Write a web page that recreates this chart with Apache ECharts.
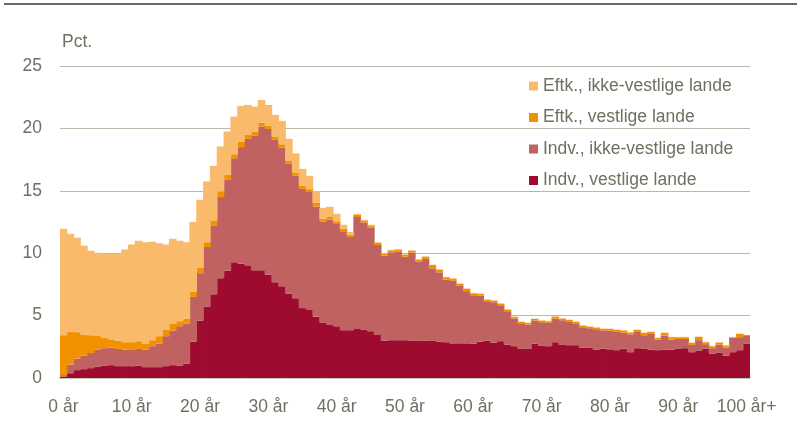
<!DOCTYPE html>
<html>
<head>
<meta charset="utf-8">
<script src="https://cdn.jsdelivr.net/npm/echarts@6/dist/echarts.min.js"></script>
<style>
  html, body { margin: 0; padding: 0; background: #fff; }
  #chart { width: 801px; height: 426px; }
</style>
</head>
<body>
<div id="chart"></div>
<script>
// alder 0 .. 100+
var ages = [];
for (var a = 0; a <= 100; a++) {
    ages.push(a === 100 ? '100 år+' : a + ' år');
}

var yTicks = [0, 5, 10, 15, 20, 25];

// Indv., vestlige lande
var indvVest = [0.1, 0.38, 0.63, 0.71, 0.79, 0.92, 1.0, 1.03, 0.95, 0.95,
    0.95, 1.0, 0.87, 0.87, 0.87, 0.95, 1.03, 1.0, 1.16, 2.91,
    4.6, 5.73, 6.71, 7.99, 8.6, 9.27, 9.16, 9.03, 8.63, 8.63,
    8.28, 7.67, 7.35, 6.76, 6.39, 5.6, 5.5, 4.92, 4.41, 4.3,
    4.15, 3.83, 3.83, 3.93, 3.85, 3.75, 3.45, 3.0, 3.03, 3.03,
    3.03, 2.97, 2.97, 3.0, 2.97, 2.92, 2.87, 2.78, 2.78, 2.78,
    2.76, 2.92, 3.0, 2.84, 2.95, 2.68, 2.55, 2.33, 2.33, 2.76,
    2.57, 2.55, 2.87, 2.65, 2.63, 2.63, 2.41, 2.41, 2.25, 2.35,
    2.3, 2.23, 2.35, 2.07, 2.39, 2.33, 2.28, 2.23, 2.28, 2.28,
    2.33, 2.39, 2.07, 2.17, 2.36, 1.96, 2.01, 1.8, 2.07, 2.23,
    2.73];

// Indv., ikke-vestlige lande
var indvIkkeVest = [0.13, 0.7, 0.93, 1.09, 1.21, 1.36, 1.39, 1.41, 1.38, 1.33,
    1.3, 1.33, 1.41, 1.68, 1.89, 2.4, 2.77, 3.15, 3.21, 3.59,
    3.8, 4.77, 5.52, 6.51, 7.28, 8.33, 9.34, 10.13, 10.8, 11.52,
    11.68, 11.41, 11.12, 10.4, 9.81, 9.56, 9.4, 8.83, 8.14, 8.4,
    8.18, 7.92, 7.46, 8.97, 8.62, 8.32, 7.2, 6.8, 7.04, 7.09,
    6.69, 7.07, 6.35, 6.55, 5.82, 5.55, 5.01, 5.0, 4.6, 4.18,
    3.87, 3.68, 3.15, 3.23, 2.88, 2.67, 2.21, 2.0, 1.95, 1.84,
    1.9, 1.86, 1.89, 1.98, 1.86, 1.7, 1.66, 1.58, 1.66, 1.47,
    1.5, 1.46, 1.28, 1.43, 1.3, 1.1, 1.25, 0.85, 1.12, 0.8,
    0.8, 0.74, 0.58, 0.86, 0.35, 0.43, 0.67, 0.64, 1.14, 1.04,
    0.7];

// Eftk., vestlige lande
var eftkVest = [3.2, 2.64, 2.11, 1.68, 1.43, 1.12, 0.81, 0.66, 0.64, 0.59,
    0.62, 0.62, 0.45, 0.48, 0.59, 0.5, 0.53, 0.4, 0.38, 0.42,
    0.42, 0.38, 0.4, 0.45, 0.4, 0.33, 0.45, 0.32, 0.32, 0.32,
    0.27, 0.27, 0.26, 0.27, 0.27, 0.24, 0.23, 0.28, 0.21, 0.25,
    0.22, 0.21, 0.19, 0.18, 0.16, 0.16, 0.17, 0.16, 0.16, 0.16,
    0.16, 0.16, 0.16, 0.15, 0.26, 0.21, 0.2, 0.15, 0.15, 0.17,
    0.16, 0.13, 0.13, 0.13, 0.13, 0.13, 0.13, 0.16, 0.13, 0.13,
    0.13, 0.14, 0.16, 0.13, 0.16, 0.16, 0.13, 0.13, 0.13, 0.11,
    0.13, 0.16, 0.17, 0.15, 0.16, 0.18, 0.16, 0.13, 0.21, 0.19,
    0.14, 0.14, 0.16, 0.26, 0.16, 0.16, 0.16, 0.16, 0.06, 0.26,
    0.0];

// Eftk., ikke-vestlige lande
var eftkIkkeVest = [8.53, 7.84, 7.57, 7.12, 6.77, 6.64, 6.8, 6.83, 7.03, 7.43,
    7.83, 8.05, 8.14, 7.89, 7.45, 6.85, 6.83, 6.45, 6.13, 5.58,
    5.46, 4.87, 4.37, 3.6, 3.47, 3.02, 2.85, 2.4, 2.0, 1.81,
    1.65, 1.73, 1.87, 1.73, 1.53, 1.36, 1.07, 0.94, 0.87, 0.77,
    0.61, 0.32, 0.22, 0.08, 0.05, 0.05, 0.05, 0.04, 0.05, 0.05,
    0.04, 0.03, 0.05, 0.05, 0.03, 0.05, 0.02, 0.06, 0.05, 0.05,
    0.03, 0.03, 0.03, 0.03, 0.03, 0.03, 0.03, 0.03, 0.03, 0.03,
    0.03, 0.03, 0.03, 0.03, 0.03, 0.03, 0.03, 0.03, 0.03, 0.03,
    0.03, 0.03, 0.03, 0.03, 0.03, 0.03, 0.03, 0.03, 0.03, 0.03,
    0.03, 0.03, 0.03, 0.03, 0.03, 0.03, 0.03, 0.03, 0.03, 0.03,
    0.03];

var seriesNames = ['Indv., vestlige lande', 'Indv., ikke-vestlige lande', 'Eftk., vestlige lande', 'Eftk., ikke-vestlige lande'];
var seriesColors = ['#9e0b2f', '#c06262', '#f29100', '#f9bb6b'];
var seriesData = [indvVest, indvIkkeVest, eftkVest, eftkIkkeVest];

var textColor = '#6f6f62';
var fontName = 'Liberation Sans, Arial, sans-serif';

var chart = echarts.init(document.getElementById('chart'));

var series = [];
for (var i = 0; i < seriesNames.length; i++) {
    series.push({
        name: seriesNames[i],
        type: 'bar',
        stack: 'total',
        barWidth: '112%',
        itemStyle: { color: seriesColors[i] },
        data: seriesData[i]
    });
}

chart.setOption({
    animation: false,
    textStyle: { fontFamily: fontName },
    grid: { left: 60, right: 51, top: 66, bottom: 48, containLabel: false },
    legend: {
        orient: 'vertical',
        left: 524,
        top: 72,
        itemWidth: 9,
        itemHeight: 9,
        itemGap: 13.5,
        icon: 'rect',
        data: seriesNames.slice().reverse(),
        textStyle: { color: textColor, fontSize: 17.5, fontFamily: fontName }
    },
    graphic: [
        {
            type: 'rect',
            left: 4, top: 3,
            shape: { width: 793, height: 2 },
            style: { fill: '#6b6a5c' }
        },
        {
            type: 'text',
            left: 62, top: 33,
            style: { text: 'Pct.', fill: textColor, fontSize: 17.5, fontFamily: fontName }
        }
    ],
    xAxis: {
        type: 'category',
        data: ages,
        axisTick: { show: false },
        axisLine: { lineStyle: { color: '#c9c8bd', width: 2 } },
        axisLabel: {
            color: textColor,
            fontSize: 17.5,
            margin: 20,
            interval: function(idx) { return idx % 10 === 0; }
        }
    },
    yAxis: {
        type: 'value',
        min: yTicks[0],
        max: yTicks[yTicks.length - 1],
        interval: 5,
        axisLine: { show: false },
        axisTick: { show: false },
        axisLabel: { color: textColor, fontSize: 17.5, margin: 18 },
        splitLine: { lineStyle: { color: '#b9b8ab', width: 1 } }
    },
    series: series
});
</script>
</body>
</html>
